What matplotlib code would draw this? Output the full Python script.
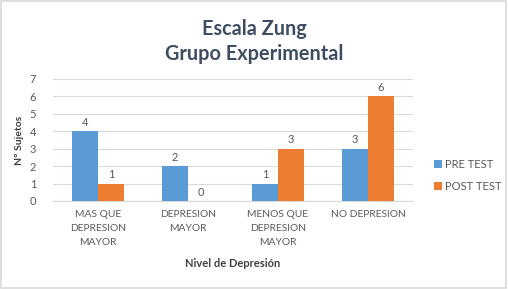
import matplotlib
matplotlib.use("Agg")
import matplotlib.pyplot as plt
import numpy as np
from matplotlib.patches import Rectangle

categories = ["MAS QUE\nDEPRESION\nMAYOR", "DEPRESION\nMAYOR", "MENOS QUE\nDEPRESION\nMAYOR", "NO DEPRESION"]
pre_test = [4, 2, 1, 3]
post_test = [1, 0, 3, 6]
series_names = ["PRE TEST", "POST TEST"]

plt.rcParams['font.family'] = ['Lato', 'DejaVu Sans']
fig = plt.figure(figsize=(5.08, 2.89), dpi=100)
fig.patch.set_facecolor('white')
fig.add_artist(Rectangle((0.002, 0.003), 0.995, 0.993, transform=fig.transFigure,
                         fill=False, edgecolor='#D9D9D9', linewidth=1.2))
ax = fig.add_axes([0.104, 0.3045, 0.709, 0.4225])

x = np.arange(len(categories))
w = 0.29
blue = '#5B9BD5'
orange = '#ED7D31'
b1 = ax.bar(x - w/2, pre_test, w, color=blue, label=series_names[0], zorder=3)
b2 = ax.bar(x + w/2, post_test, w, color=orange, label=series_names[1], zorder=3)
for bars, vals in ((b1, pre_test), (b2, post_test)):
    for r, v in zip(bars, vals):
        ax.text(r.get_x() + r.get_width()/2, v + 0.2, str(v), ha='center', va='bottom',
                fontsize=8, color='#595959')

ax.set_xlim(-0.5, 3.5)
ax.set_ylim(0, 7)
ax.set_yticks(range(0, 8))
ax.yaxis.grid(True, color='#D9D9D9', linewidth=0.8, zorder=0)
ax.set_axisbelow(True)
for s in ax.spines.values():
    s.set_visible(False)
ax.spines['bottom'].set_visible(True)
ax.spines['bottom'].set_color('#D9D9D9')
ax.tick_params(axis='both', length=0, labelsize=8, colors='#595959')
ax.tick_params(axis='y', pad=12)
ax.tick_params(axis='x', pad=6.5)
ax.set_xticks(x)
ax.set_xticklabels(categories, fontsize=7.4, color='#595959', linespacing=1.7)
ax.set_xlabel("Nivel de Depresión", fontsize=8, fontweight='bold', color='#404040', labelpad=8)
ax.set_ylabel("N° Sujetos", fontsize=7.5, fontweight='bold', color='#404040', labelpad=4)

fig.text(0.5, 0.935, "Escala Zung\nGrupo Experimental", ha='center', va='top', fontsize=14.3,
         fontweight='bold', color='#3F4D62', linespacing=1.3)

fig.legend(handles=[b1, b2], labels=series_names, loc='upper left', bbox_to_anchor=(0.835, 0.485),
           frameon=False, fontsize=8, labelcolor='#595959', handlelength=0.7, handleheight=0.7,
           handletextpad=0.3, labelspacing=1.0)

fig.savefig("out.png", dpi=100)
